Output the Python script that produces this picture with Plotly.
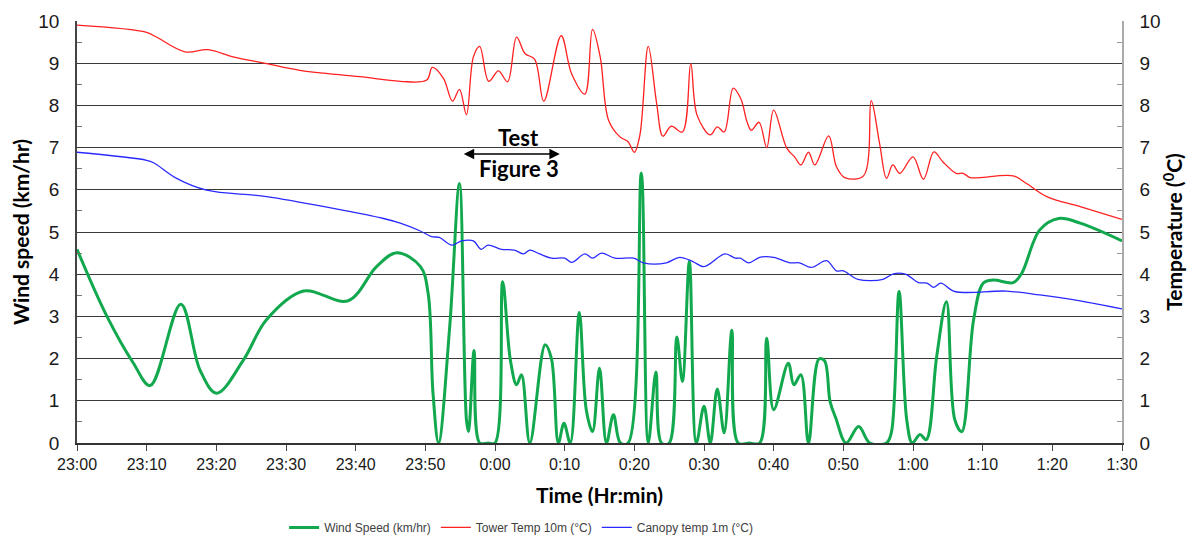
import plotly.graph_objects as go

# Time axis: minutes after 23:00
tick_minutes = [0, 10, 20, 30, 40, 50, 60, 70, 80, 90, 100, 110, 120, 130, 140, 150]
tick_labels = ["23:00", "23:10", "23:20", "23:30", "23:40", "23:50", "0:00", "0:10",
               "0:20", "0:30", "0:40", "0:50", "1:00", "1:10", "1:20", "1:30"]

wind_t = [0, 4.3, 8.1, 10.5, 14.9, 17.65, 20.05, 23.9, 27.2, 32.5, 38.9, 43, 45.9, 49.3, 50.4, 51.1,
          51.9, 53.5, 54.9, 55.9, 56.2, 57.0, 57.8, 59, 60, 61.1, 62.2, 63.1, 63.8, 65, 67.2, 68.1,
          69.1, 69.9, 70.8, 72.1, 73.1, 74, 75, 76, 77, 78, 79.1, 81, 82, 83.1, 83.9, 85.0, 86.1,
          86.9, 87.9, 88.9, 90, 90.9, 91.9, 92.9, 94.0, 94.9, 96.5, 98, 99, 100, 102.1, 102.9,
          103.9, 105, 106.5, 107.3, 108.1, 108.9, 110.4, 112.2, 113.8, 116.2, 116.9, 118, 119.1,
          119.9, 121, 121.9, 123.4, 124.8, 126, 127, 128.7, 130.1, 131.5, 134.4, 135.6, 138.2,
          140.9, 144, 150]
wind_speed = [4.59, 3.0, 1.89, 1.36, 3.29, 1.73, 1.18, 1.97, 2.92, 3.60, 3.37, 4.18, 4.51, 4.18, 3.55, 1.18,
              0, 2.76, 6.15, 0.55, 0.27, 2.19, 0, 0, 0, 3.82, 1.97, 1.38, 1.62, 0, 2.33, 2.0,
              0, 0.47, 0, 3.09, 0.79, 0.27, 1.77, 0, 0.67, 0, 0, 6.40, 0, 1.68, 0, 0, 2.51,
              1.46, 4.30, 0, 0.87, 0, 1.28, 0.24, 2.67, 0, 0, 0, 2.48, 0.79, 1.89, 1.38,
              1.62, 0, 1.99, 1.95, 0.98, 0.6, 0, 0.39, 0, 0, 0.25, 3.59, 0.55,
              0, 0.2, 0.08, 2.05, 3.35, 0.55, 0.27, 2.92, 3.79, 3.86, 3.80, 4.02, 5.05,
              5.32, 5.21, 4.79]

tower_t = [0, 10, 11.4, 15.5, 18.8, 22.4, 26.7, 32, 40.6, 46.4, 50.2, 51, 52.6, 53.9, 54.9, 55.9,
           56.9, 57.8, 59.1, 60.5, 61.8, 63.1, 64.3, 65.7, 67, 69.5, 71, 72.9, 74, 75.1, 76.3,
           77.9, 79.1, 80, 80.8, 82, 83.2, 84.1, 85.3, 86.9, 88.1, 89, 90.9, 91.9, 92.9, 94.2,
           95.3, 96.2, 96.8, 97.9, 99, 100, 101.9, 103, 103.9, 105, 105.9, 107.9, 109, 110.2,
           112.9, 114, 115.2, 116.2, 117.1, 118.1, 120, 121.5, 123, 124.3, 126.2, 127.2, 128.2,
           129.6, 134.4, 136.3, 139.2, 144, 150]
tower_temp = [9.90, 9.73, 9.62, 9.27, 9.32, 9.15, 9.01, 8.83, 8.68, 8.57, 8.60, 8.90, 8.64, 8.10, 8.38, 7.78,
              9.15, 9.40, 8.57, 8.82, 8.56, 9.62, 9.23, 9.09, 8.10, 9.65, 8.75, 8.27, 9.80, 9.15, 7.65,
              7.26, 7.14, 6.89, 7.3, 9.40, 8.05, 7.27, 7.51, 7.37, 8.99, 7.77, 7.30, 7.49, 7.37, 8.41,
              8.15, 7.6, 7.41, 7.60, 7.0, 7.89, 6.98, 6.78, 6.59, 6.89, 6.59, 7.28, 6.55, 6.29,
              6.33, 8.11, 7.10, 6.27, 6.59, 6.39, 6.78, 6.25, 6.90, 6.66, 6.39, 6.39, 6.29,
              6.29, 6.33, 6.15, 5.84, 5.60, 5.30]

canopy_t = [0, 10, 11, 14.3, 18.6, 27.2, 36.8, 44, 46.4, 49.2, 50.9, 52, 53.8, 55.2, 56.9, 58, 59,
            60.9, 62.8, 64.1, 65, 66.4, 68.1, 70, 71, 72.9, 74, 75.3, 77.2, 79.9, 81.3, 84.6, 86.5,
            88.4, 90, 93, 94.5, 95.2, 96.4, 98, 100, 102.3, 103.7, 105.4, 107.6, 109, 110, 112.1,
            115.7, 117.2, 118.9, 120.8, 122, 123, 124, 126, 133.4, 138.2, 144, 150]
canopy_temp = [6.89, 6.70, 6.64, 6.27, 5.99, 5.84, 5.56, 5.32, 5.21, 5.03, 4.89, 4.87, 4.69, 4.79, 4.79, 4.59, 4.69,
               4.59, 4.57, 4.48, 4.57, 4.48, 4.38, 4.38, 4.28, 4.48, 4.38, 4.50, 4.38, 4.38, 4.27, 4.27, 4.40,
               4.30, 4.18, 4.48, 4.38, 4.38, 4.27, 4.40, 4.40, 4.27, 4.27, 4.16, 4.32, 4.08, 4.08, 3.88,
               3.88, 4.01, 4.00, 3.80, 3.79, 3.69, 3.79, 3.59, 3.60, 3.51, 3.37, 3.18]

GREEN = "#12a84e"
RED = "#ff2020"
BLUE = "#2a2aff"
TICK_FONT = dict(family="Liberation Sans, Arial, sans-serif", size=19, color="#1a1a1a")
TITLE_FONT = dict(family="Lato, Open Sans, sans-serif", size=21, color="#000000")

fig = go.Figure()
fig.add_trace(go.Scatter(x=wind_t, y=wind_speed, name="Wind Speed (km/hr)", mode="lines",
                         line=dict(color=GREEN, width=3, shape="spline", smoothing=1.0)))
fig.add_trace(go.Scatter(x=tower_t, y=tower_temp, name="Tower Temp 10m (°C)", mode="lines",
                         line=dict(color=RED, width=1.3, shape="spline", smoothing=1.0), yaxis="y2"))
fig.add_trace(go.Scatter(x=canopy_t, y=canopy_temp, name="Canopy temp 1m (°C)", mode="lines",
                         line=dict(color=BLUE, width=1.3, shape="spline", smoothing=1.0), yaxis="y2"))

# the page body has an 8px margin, so the figure is sized and offset to compensate
fig.update_layout(
    width=1189, height=530,
    margin=dict(l=69, r=75, t=13, b=95, autoexpand=False),
    paper_bgcolor="white", plot_bgcolor="white",
    showlegend=True,
    legend=dict(orientation="h", x=0.425, xanchor="center", y=-0.2, yanchor="middle",
                font=dict(family="Liberation Sans, Arial, sans-serif", size=12, color="#404040"),
                itemwidth=30, tracegroupgap=0, bgcolor="rgba(0,0,0,0)"),
    xaxis=dict(range=[0, 150], tickvals=tick_minutes, ticktext=tick_labels, automargin=False,
               ticks="outside", ticklen=6, tickcolor="#444", tickwidth=1.2,
               showgrid=False, zeroline=False, showline=True, linecolor="#333", linewidth=1.5,
               tickfont=dict(family="Liberation Sans, Arial, sans-serif", size=16, color="#1a1a1a"),
               title=dict(text="<b>Time (Hr:min)</b>", font=TITLE_FONT, standoff=16)),
    yaxis=dict(range=[0, 10], dtick=1, ticks="", showgrid=True, gridcolor="#3a3a3a", gridwidth=1.4,
               zeroline=False, showline=True, linecolor="#444", linewidth=1.5, automargin=False,
               minor=dict(dtick=0.5, ticks="inside", ticklen=5, tickcolor="#777", showgrid=False),
               tickfont=TICK_FONT, ticklabelstandoff=12,
               title=dict(text="<b>Wind speed (km/hr)</b>", font=TITLE_FONT, standoff=6)),
    yaxis2=dict(range=[0, 10], dtick=1, overlaying="y", side="right", ticks="", showgrid=False,
                zeroline=False, showline=True, linecolor="#aaaaaa", linewidth=1.5, automargin=False,
                minor=dict(dtick=0.5, ticks="inside", ticklen=5, tickcolor="#999", showgrid=False),
                tickfont=TICK_FONT, ticklabelstandoff=12,
                title=dict(text="<b>Temperature (<sup>0</sup>C)</b>", font=TITLE_FONT, standoff=8)),
)

ann_font = dict(family="Lato, Open Sans, sans-serif", size=22, color="#000000")
fig.add_annotation(x=63.4, y=7.25, xref="x", yref="y", text="<b>Test</b>",
                   xanchor="center", yanchor="middle", showarrow=False, font=ann_font)
fig.add_annotation(x=63.4, y=6.5, xref="x", yref="y", text="<b>Figure 3</b>",
                   xanchor="center", yanchor="middle", showarrow=False, font=ann_font)
fig.add_annotation(x=69.3, y=6.85, ax=55.3, ay=6.85, xref="x", yref="y", axref="x", ayref="y",
                   text="", showarrow=True, arrowhead=2, arrowside="end+start",
                   arrowsize=1.3, arrowwidth=1.6, arrowcolor="#000000")

fig.write_html("out.html")
